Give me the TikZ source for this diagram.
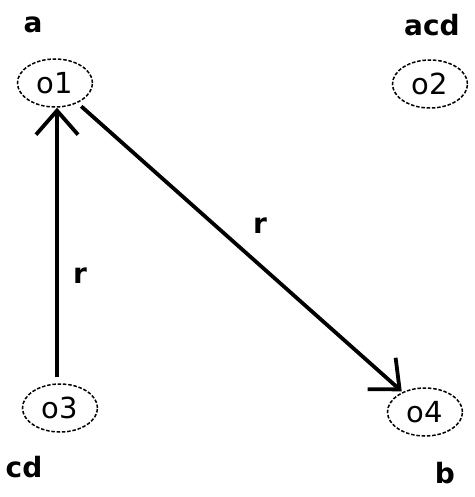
\documentclass[tikz,border=0pt]{standalone}
\usepackage{fontspec}
\setmainfont{DejaVu Sans}
\usetikzlibrary{shapes.geometric,arrows.meta}
\tikzset{
  obj/.style={ellipse, draw, dash pattern=on 3.5pt off 1.8pt, line width=1.5pt,
    minimum width=75pt, minimum height=48pt, inner sep=0pt, font=\fontsize{29}{29}\selectfont},
  lbl/.style={font=\fontsize{28}{28}\selectfont\bfseries, inner sep=0pt},
  arr/.style={line width=3.8pt, -{Straight Barb[length=24pt,width=42pt,line width=3.8pt]}}
}
\begin{document}
\begin{tikzpicture}[x=1pt,y=-1pt]
\useasboundingbox (0,0) rectangle (474,497);
\node[obj] (o1) at (55,83) {o1};
\node[obj] (o2) at (430,84) {o2};
\node[obj] (o3) at (60,408) {o3};
\node[obj] (o4) at (425,412) {o4};
\node[lbl] (la) at (33,25) {a};
\node[lbl] (lacd) at (432,25) {acd};
\node[lbl] (lcd) at (24,467) {cd};
\node[lbl] (lb) at (445,473) {b};
\coordinate (lx) at (57,0);
\draw[arr, shorten <=6pt] (o3.north -| lx) -- (o1.south -| lx);
\draw[arr, shorten <=5pt, shorten >=1pt] (o1) -- (o4);
\node[lbl] (r1) at (80,276) {r};
\node[lbl] (r2) at (260,226) {r};
\end{tikzpicture}
\end{document}
